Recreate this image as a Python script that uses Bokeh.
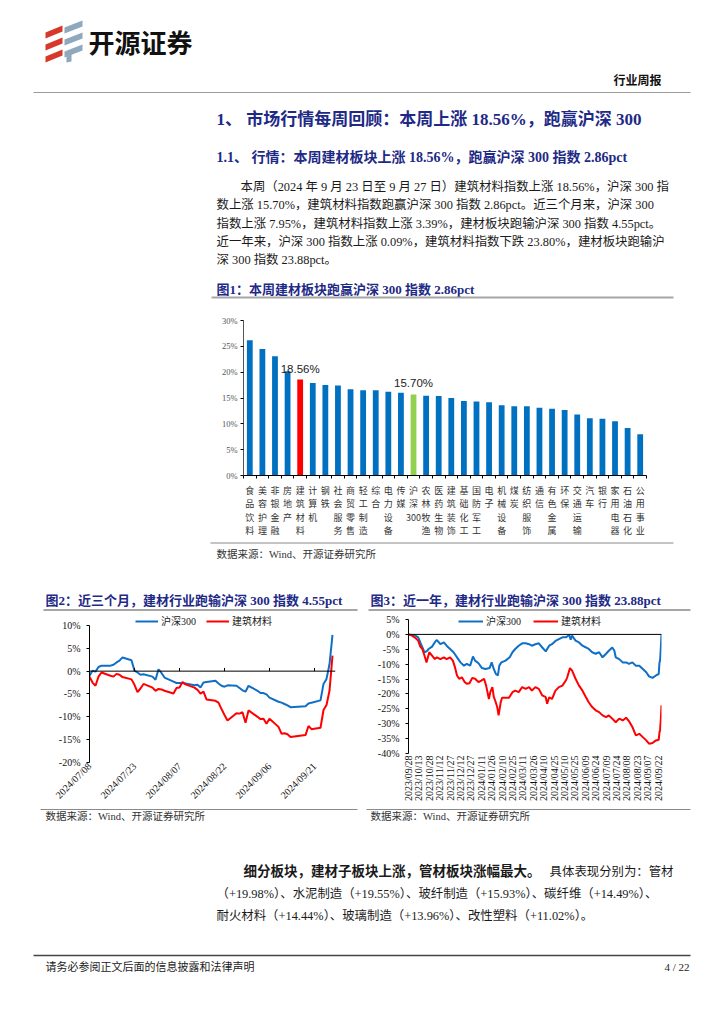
import math
from datetime import datetime, timedelta
from bokeh.plotting import figure
from bokeh.layouts import column, row
from bokeh.models import (Range1d, FixedTicker, PrintfTickFormatter, DatetimeTickFormatter,
                          Span, Legend, LegendItem)
from bokeh.core.properties import value
from bokeh.embed import file_html
from bokeh.resources import INLINE

# ---------------- data ----------------
bar_names = ["食品饮料", "美容护理", "非银金融", "房地产", "建筑材料", "计算机", "钢铁", "社会服务",
             "商贸零售", "轻工制造", "综合", "电力设备", "传媒", "沪深300", "农林牧渔", "医药生物",
             "建筑装饰", "基础化工", "国防军工", "电子", "机械设备", "煤炭", "纺织服饰", "通信",
             "有色金属", "环保", "交通运输", "汽车", "银行", "家用电器", "石油石化", "公用事业"]
bar_values = [26.2, 24.5, 23.1, 20.2, 18.56, 17.9, 17.5, 17.4, 16.7, 16.5, 16.5, 16.2, 16.0, 15.70,
              15.45, 15.4, 15.0, 14.4, 14.3, 14.2, 13.6, 13.4, 13.4, 13.1, 12.9, 12.7, 11.8, 11.1,
              11.0, 10.5, 9.2, 8.0]
bar_yticks = [0, 5, 10, 15, 20, 25, 30]

m3_dates = ["2024-07-08", "2024-07-09", "2024-07-10", "2024-07-11", "2024-07-12", "2024-07-15",
            "2024-07-16", "2024-07-17", "2024-07-18", "2024-07-19", "2024-07-22", "2024-07-23",
            "2024-07-24", "2024-07-25", "2024-07-26", "2024-07-29", "2024-07-30", "2024-07-31",
            "2024-08-01", "2024-08-02", "2024-08-05", "2024-08-06", "2024-08-07", "2024-08-08",
            "2024-08-09", "2024-08-12", "2024-08-13", "2024-08-14", "2024-08-15", "2024-08-16",
            "2024-08-19", "2024-08-20", "2024-08-21", "2024-08-22", "2024-08-23", "2024-08-26",
            "2024-08-27", "2024-08-28", "2024-08-29", "2024-08-30", "2024-09-02", "2024-09-03",
            "2024-09-04", "2024-09-05", "2024-09-06", "2024-09-09", "2024-09-10", "2024-09-11",
            "2024-09-12", "2024-09-13", "2024-09-18", "2024-09-19", "2024-09-20", "2024-09-23",
            "2024-09-24", "2024-09-25", "2024-09-26", "2024-09-27"]
m3_hs300 = [-1.0, 0.1, -0.1, 0.9, 1.2, 1.2, 1.4, 1.9, 2.3, 3.0, 2.4, 0.1, -0.3, -0.8, -0.7, -1.2,
            -1.9, 0.4, -0.4, -1.4, -2.3, -2.6, -2.6, -2.6, -2.7, -3.1, -3.0, -3.6, -2.5, -2.4, -2.1,
            -2.7, -3.2, -3.4, -3.1, -3.2, -3.7, -4.2, -4.5, -3.2, -4.3, -4.8, -4.8, -5.1, -5.8, -6.7,
            -6.9, -7.2, -7.5, -7.9, -7.7, -7.1, -6.9, -6.4, -2.8, -1.7, 1.5, 7.95]
m3_jc = [-1.2, -2.5, -3.2, -1.2, -0.3, -1.0, -1.2, -0.6, -0.8, -1.3, -1.8, -3.0, -4.6, -3.8, -2.8,
         -3.6, -4.3, -3.9, -4.0, -4.3, -4.9, -3.7, -3.6, -2.4, -2.9, -3.6, -4.1, -4.9, -4.5, -6.2,
         -6.5, -6.9, -8.3, -9.6, -10.8, -9.2, -9.3, -9.0, -11.3, -8.6, -10.0, -10.5, -10.4, -11.5,
         -10.4, -12.2, -13.7, -13.6, -13.8, -14.4, -14.0, -12.0, -12.7, -12.4, -8.5, -7.4, -4.3, 3.39]
m3_ticks = ["2024/07/08", "2024/07/23", "2024/08/07", "2024/08/22", "2024/09/06", "2024/09/21"]
m3_yticks = [-20, -15, -10, -5, 0, 5, 10]

y1_start = "2023-09-28"
y1_hs300_days = [0, 5, 10, 14, 17, 19, 23, 27, 29, 34, 39, 41, 46, 51, 55, 60, 65, 70, 75, 80, 84, 89,
                 93, 96, 101, 106, 111, 117, 120, 123, 126, 129, 131, 134, 140, 146, 150, 154, 159,
                 164, 169, 174, 178, 183, 188, 193, 198, 203, 207, 212, 217, 222, 227, 232, 234, 236,
                 241, 246, 251, 256, 260, 265, 270, 275, 280, 285, 289, 294, 297, 299, 304, 309, 314,
                 318, 323, 328, 333, 338, 343, 347, 352, 357, 361, 362, 363, 364, 365]
y1_hs300 = [0, -0.2, -0.4, -1.0, -2.7, -3.8, -6.0, -5.5, -4.9, -4.1, -2.3, -1.9, -3.3, -2.7, -3.8,
            -4.9, -6.0, -7.7, -9.4, -10.5, -9.9, -10.5, -7.4, -8.8, -9.7, -11.3, -11.6, -11.3, -9.4,
            -11.6, -13.3, -13.8, -10.5, -9.4, -8.8, -7.7, -6.0, -4.9, -3.8, -3.0, -3.0, -3.3, -3.8,
            -3.3, -3.0, -4.4, -5.7, -3.8, -3.3, -2.2, -1.6, -1.0, -1.0, -0.2, -1.8, -0.4, -2.1, -2.7,
            -3.8, -4.4, -4.9, -6.0, -6.5, -6.0, -7.7, -6.5, -5.5, -4.4, -5.5, -7.7, -8.3, -9.4, -9.4,
            -9.9, -9.4, -10.5, -10.5, -11.6, -12.7, -14.1, -14.6, -13.8, -13.3, -9.6, -8.6, -4.8, 0.09]
y1_jc_days = [0, 5, 10, 14, 17, 20, 23, 26, 28, 30, 34, 38, 41, 46, 51, 55, 60, 64, 67, 70, 73, 77, 81,
              84, 88, 92, 96, 101, 105, 109, 112, 116, 118, 121, 123, 125, 128, 130, 133, 135, 140,
              145, 150, 154, 159, 164, 169, 174, 178, 183, 188, 193, 198, 200, 203, 207, 212, 217,
              222, 227, 229, 233, 236, 241, 246, 251, 256, 260, 265, 270, 275, 280, 285, 289, 294,
              299, 304, 309, 314, 318, 323, 328, 333, 338, 343, 347, 352, 357, 361, 362, 363, 364, 365]
y1_jc = [0, -0.4, -1.2, -2.1, -4.1, -4.9, -7.1, -9.4, -7.7, -6.0, -7.1, -8.3, -7.7, -8.3, -7.7, -8.3,
         -7.7, -8.8, -11.0, -13.8, -14.9, -14.4, -16.0, -16.6, -16.4, -14.6, -14.9, -16.0, -15.5,
         -14.9, -17.2, -21.7, -19.4, -17.7, -20.9, -22.2, -24.4, -27.2, -22.8, -21.3, -21.3, -21.3,
         -19.4, -18.9, -19.4, -17.7, -18.3, -17.7, -18.9, -17.7, -18.3, -20.5, -21.1, -23.3, -21.1,
         -21.7, -18.9, -17.7, -17.2, -15.5, -14.4, -11.3, -12.2, -14.9, -17.2, -18.9, -21.1, -22.8,
         -24.4, -25.5, -26.1, -27.2, -27.8, -27.2, -28.3, -29.5, -28.3, -28.9, -28.0, -29.1, -31.1,
         -33.9, -33.4, -34.5, -35.6, -36.7, -36.5, -35.6, -35.4, -33.0, -32.0, -28.5, -23.8]
y1_ticks = ["2023/09/28", "2023/10/13", "2023/10/28", "2023/11/12", "2023/11/27", "2023/12/12",
            "2023/12/27", "2024/01/11", "2024/01/26", "2024/02/10", "2024/02/25", "2024/03/11",
            "2024/03/26", "2024/04/10", "2024/04/25", "2024/05/10", "2024/05/25", "2024/06/09",
            "2024/06/24", "2024/07/09", "2024/07/24", "2024/08/08", "2024/08/23", "2024/09/07",
            "2024/09/22"]
y1_yticks = [-40, -35, -30, -25, -20, -15, -10, -5, 0, 5]
series_names = ["沪深300", "建筑材料"]

# ---------------- style ----------------
W = 724
SERIF = "Liberation Serif, Noto Sans CJK SC"
NAVY = "#1E2A86"
TXT = "#1a1a1a"
BLUE = "#0F6FC6"
RED = "#FF0000"
EPOCH = datetime(1970, 1, 1)


def pdate(s):
    return datetime.strptime(s.replace("/", "-"), "%Y-%m-%d")


def ms(d):
    return (d - EPOCH).total_seconds() * 1000.0


def text_fig(y0, y1):
    p = figure(width=W, height=y1 - y0, x_range=Range1d(0, W), y_range=Range1d(y1, y0),
               x_axis_type=None, y_axis_type=None, toolbar_location=None, output_backend="svg",
               min_border=0, outline_line_color=None, frame_align=False)
    return p


def put(p, x, y, s, size, color=TXT, bold=False, font=SERIF, align="left"):
    p.text(x=[x], y=[y], text=[s], text_font=value(font), text_font_size=value(f"{size}px"),
           text_font_style="bold" if bold else "normal", text_color=color,
           text_align=align, text_baseline="middle")


def hline(p, x0, x1, y, color="#999999", width=1.0):
    p.segment(x0=[x0], y0=[y], x1=[x1], y1=[y], line_color=color, line_width=width)


# ---------------- R1: header + text (page y 0..312) ----------------
t1 = text_fig(0, 312)
red_xs, red_ys, blu_xs, blu_ys = [], [], [], []
for i in range(3):
    yb = 25 + 12 * i
    red_xs.append([45, 62, 62, 45])
    red_ys.append([yb + 7, yb, yb + 6, yb + 13])
    yb2 = 20 + 12 * i
    blu_xs.append([64, 82, 82, 64])
    blu_ys.append([yb2 + 7, yb2, yb2 + 6, yb2 + 13])
blu_xs.append([66, 71, 71, 66])
blu_ys.append([55, 53, 61, 62])
t1.patches(red_xs, red_ys, fill_color="#D8382A", line_color=None)
t1.patches(blu_xs, blu_ys, fill_color="#8EA8BD", line_color=None)
put(t1, 88, 41, "开源证券", 26, color="#111111", bold=True, font="Noto Sans CJK SC")
put(t1, 661, 80, "行业周报", 12, color="#111111", bold=True, align="right")
hline(t1, 33, 690, 92, color="#9a9a9a", width=1)

put(t1, 216, 119, "1、 市场行情每周回顾：本周上涨 18.56%，跑赢沪深 300", 17, color=NAVY, bold=True)
put(t1, 216, 157, "1.1、 行情：本周建材板块上涨 18.56%，跑赢沪深 300 指数 2.86pct", 14, color=NAVY, bold=True)
para = [
    (240, 186, "本周（2024 年 9 月 23 日至 9 月 27 日）建筑材料指数上涨 18.56%，沪深 300 指"),
    (216, 204, "数上涨 15.70%，建筑材料指数跑赢沪深 300 指数 2.86pct。近三个月来，沪深 300"),
    (216, 223, "指数上涨 7.95%，建筑材料指数上涨 3.39%，建材板块跑输沪深 300 指数 4.55pct。"),
    (216, 241, "近一年来，沪深 300 指数上涨 0.09%，建筑材料指数下跌 23.80%，建材板块跑输沪"),
    (216, 259, "深 300 指数 23.88pct。"),
]
for x, y, s in para:
    put(t1, x, y, s, 12.4)
put(t1, 216, 289, "图1：本周建材板块跑赢沪深 300 指数 2.86pct", 13, color=NAVY, bold=True)
hline(t1, 211, 673, 297, color="#A6A6A6", width=2)

# ---------------- R2: bar chart (page y 312..540) ----------------
pb = figure(width=W, height=228, x_range=Range1d(-0.5, len(bar_names) - 0.5), y_range=Range1d(0, 30),
            toolbar_location=None, output_backend="svg", min_border_left=243, min_border_right=78,
            min_border_top=8, min_border_bottom=51, outline_line_color=None, frame_align=False)
idx = list(range(len(bar_names)))
colors = [RED if n == "建筑材料" else ("#92D050" if n == "沪深300" else "#0070C0") for n in bar_names]
pb.vbar(x=idx, top=bar_values, width=0.46, fill_color=colors, line_color=None)
hl = [i for i, n in enumerate(bar_names) if n in ("建筑材料", "沪深300")]
pb.text(x=hl, y=[bar_values[i] for i in hl], text=[f"{bar_values[i]:.2f}%" for i in hl],
        text_font=value("Liberation Sans"), text_font_size=value("11.5px"), text_color="#222222",
        text_align="center", text_baseline="bottom", y_offset=-5)
pb.xgrid.visible = False
pb.ygrid.visible = False
pb.yaxis.ticker = FixedTicker(ticks=bar_yticks)
pb.yaxis.formatter = PrintfTickFormatter(format="%d%%")
pb.yaxis.axis_line_color = "#555555"
pb.yaxis.major_tick_out = 3
pb.yaxis.major_tick_in = 0
pb.yaxis.minor_tick_line_color = None
pb.yaxis.major_label_text_font = "Liberation Serif"
pb.yaxis.major_label_text_font_size = "8.5px"
pb.yaxis.major_label_text_color = "#555555"
pb.yaxis.major_label_standoff = 3
pb.xaxis.ticker = FixedTicker(ticks=idx, minor_ticks=[i - 0.5 for i in range(len(bar_names) + 1)])
pb.xaxis.major_label_overrides = {
    i: ("沪\n深\n300" if n == "沪深300" else "\n".join(list(n))) for i, n in enumerate(bar_names)}
pb.xaxis.axis_line_color = "#000000"
pb.xaxis.major_tick_line_color = None
pb.xaxis.major_tick_out = 0
pb.xaxis.minor_tick_line_color = "#000000"
pb.xaxis.minor_tick_out = 3
pb.xaxis.minor_tick_in = 0
pb.xaxis.major_label_text_font = "Noto Sans CJK SC"
pb.xaxis.major_label_text_font_size = "9px"
pb.xaxis.major_label_text_line_height = 1.05
pb.xaxis.major_label_text_color = "#333333"
pb.xaxis.major_label_standoff = 5

# ---------------- R3: text (page y 540..612) ----------------
t3 = text_fig(540, 612)
hline(t3, 210, 673, 542.5, color="#8a8a8a", width=1)
put(t3, 216, 554, "数据来源：Wind、开源证券研究所", 10.5, color="#333333")
put(t3, 45, 600, "图2：近三个月，建材行业跑输沪深 300 指数 4.55pct", 13, color=NAVY, bold=True)
put(t3, 370, 600, "图3：近一年，建材行业跑输沪深 300 指数 23.88pct", 13, color=NAVY, bold=True)
hline(t3, 43, 357, 609.5, color="#A6A6A6", width=2)
hline(t3, 368, 690, 609.5, color="#A6A6A6", width=2)

# ---------------- R4: line charts (page y 612..808) ----------------
fmt = DatetimeTickFormatter(days="%Y/%m/%d", months="%Y/%m/%d", years="%Y/%m/%d",
                            hours="%Y/%m/%d", hourmin="%Y/%m/%d")


def style_line_chart(p, yticks, ybounds, xticks_ms, orient):
    p.xgrid.visible = False
    p.ygrid.visible = False
    p.yaxis.ticker = FixedTicker(ticks=yticks)
    p.yaxis.bounds = ybounds
    p.yaxis.formatter = PrintfTickFormatter(format="%d%%")
    p.yaxis.axis_line_color = "#000000"
    p.yaxis.major_tick_out = 3
    p.yaxis.major_tick_in = 0
    p.yaxis.minor_tick_line_color = None
    p.yaxis.major_label_text_font = "Liberation Serif"
    p.yaxis.major_label_text_font_size = "10px"
    p.yaxis.major_label_text_color = "#111111"
    p.yaxis.major_label_standoff = 6
    p.xaxis.ticker = FixedTicker(ticks=xticks_ms)
    p.xaxis.formatter = fmt
    p.xaxis.axis_line_color = None
    p.xaxis.major_tick_line_color = None
    p.xaxis.major_tick_out = 0
    p.xaxis.major_tick_in = 0
    p.xaxis.minor_tick_line_color = None
    p.xaxis.minor_tick_out = 0
    p.xaxis.minor_tick_in = 0
    p.xaxis.major_label_orientation = orient
    p.xaxis.major_label_text_font = "Liberation Serif"
    p.xaxis.major_label_text_font_size = "10px"
    p.xaxis.major_label_text_color = "#111111"
    p.xaxis.major_label_standoff = 2
    p.add_layout(Span(location=0, dimension="width", line_color="#000000", line_width=1))


# chart 2
m3_x = [pdate(s) for s in m3_dates]
m3_tick_ms = [ms(pdate(s)) for s in m3_ticks]
p2 = figure(width=362, height=196, x_axis_type="datetime",
            x_range=Range1d(pdate("2024-07-08"), pdate("2024-09-28")), y_range=Range1d(-20, 12.4),
            toolbar_location=None, output_backend="svg", min_border_left=89, min_border_right=27,
            min_border_top=2, min_border_bottom=46, outline_line_color=None, frame_align=False)
r2a = p2.line(m3_x, m3_hs300, line_color=BLUE, line_width=2)
r2b = p2.line(m3_x, m3_jc, line_color=RED, line_width=2)
style_line_chart(p2, m3_yticks, (-20, 10), m3_tick_ms, math.pi / 4)
p2.segment(x0=m3_tick_ms[1:], y0=[0] * (len(m3_tick_ms) - 1), x1=m3_tick_ms[1:],
           y1=[0.7] * (len(m3_tick_ms) - 1), line_color="#000000", line_width=1)
leg2 = Legend(items=[LegendItem(label=series_names[0], renderers=[r2a]),
                     LegendItem(label=series_names[1], renderers=[r2b])],
              location=(46, 134), orientation="horizontal", glyph_width=23, glyph_height=10,
              label_height=10, label_standoff=3, spacing=10, padding=0, margin=0,
              border_line_color=None, background_fill_alpha=0, label_text_font=SERIF,
              label_text_font_size="10px", label_text_color="#222222")
p2.add_layout(leg2)

# chart 3
base = pdate(y1_start)
y1_x_a = [base + timedelta(days=d) for d in y1_hs300_days]
y1_x_b = [base + timedelta(days=d) for d in y1_jc_days]
y1_tick_ms = [ms(pdate(s)) for s in y1_ticks]
p3 = figure(width=362, height=196, x_axis_type="datetime",
            x_range=Range1d(pdate("2023-09-28"), pdate("2024-09-27")), y_range=Range1d(-40, 6.68),
            toolbar_location=None, output_backend="svg", min_border_left=46, min_border_right=63,
            min_border_top=2, min_border_bottom=55, outline_line_color=None, frame_align=False)
r3a = p3.line(y1_x_a, y1_hs300, line_color=BLUE, line_width=2)
r3b = p3.line(y1_x_b, y1_jc, line_color=RED, line_width=2)
style_line_chart(p3, y1_yticks, (-40, 5), y1_tick_ms, math.pi / 2)
leg3 = Legend(items=[LegendItem(label=series_names[0], renderers=[r3a]),
                     LegendItem(label=series_names[1], renderers=[r3b])],
              location=(50, 125), orientation="horizontal", glyph_width=25, glyph_height=10,
              label_height=10, label_standoff=3, spacing=12, padding=0, margin=0,
              border_line_color=None, background_fill_alpha=0, label_text_font=SERIF,
              label_text_font_size="10px", label_text_color="#222222")
p3.add_layout(leg3)

# ---------------- R5: text (page y 808..1024) ----------------
t5 = text_fig(808, 1024)
hline(t5, 40, 357, 809, color="#8a8a8a", width=1)
hline(t5, 366, 690, 809, color="#8a8a8a", width=1)
put(t5, 45, 816, "数据来源：Wind、开源证券研究所", 10.5, color="#333333")
put(t5, 370, 816, "数据来源：Wind、开源证券研究所", 10.5, color="#333333")
put(t5, 243, 871, "细分板块，建材子板块上涨，管材板块涨幅最大。", 13.5, bold=True)
put(t5, 673, 871, "具体表现分别为：管材", 12.4, align="right")
put(t5, 216, 893, "（+19.98%）、水泥制造（+19.55%）、玻纤制造（+15.93%）、碳纤维（+14.49%）、", 12.4)
put(t5, 216, 915, "耐火材料（+14.44%）、玻璃制造（+13.96%）、改性塑料（+11.02%）。", 12.4)
hline(t5, 33, 690, 955, color="#444444", width=1.5)
put(t5, 45, 966, "请务必参阅正文后面的信息披露和法律声明", 11, color="#222222")
put(t5, 689, 966, "4 / 22", 11, color="#222222", align="right")

layout = column(t1, pb, t3, row(p2, p3), t5)
open("out.html", "w").write(file_html(layout, INLINE))
